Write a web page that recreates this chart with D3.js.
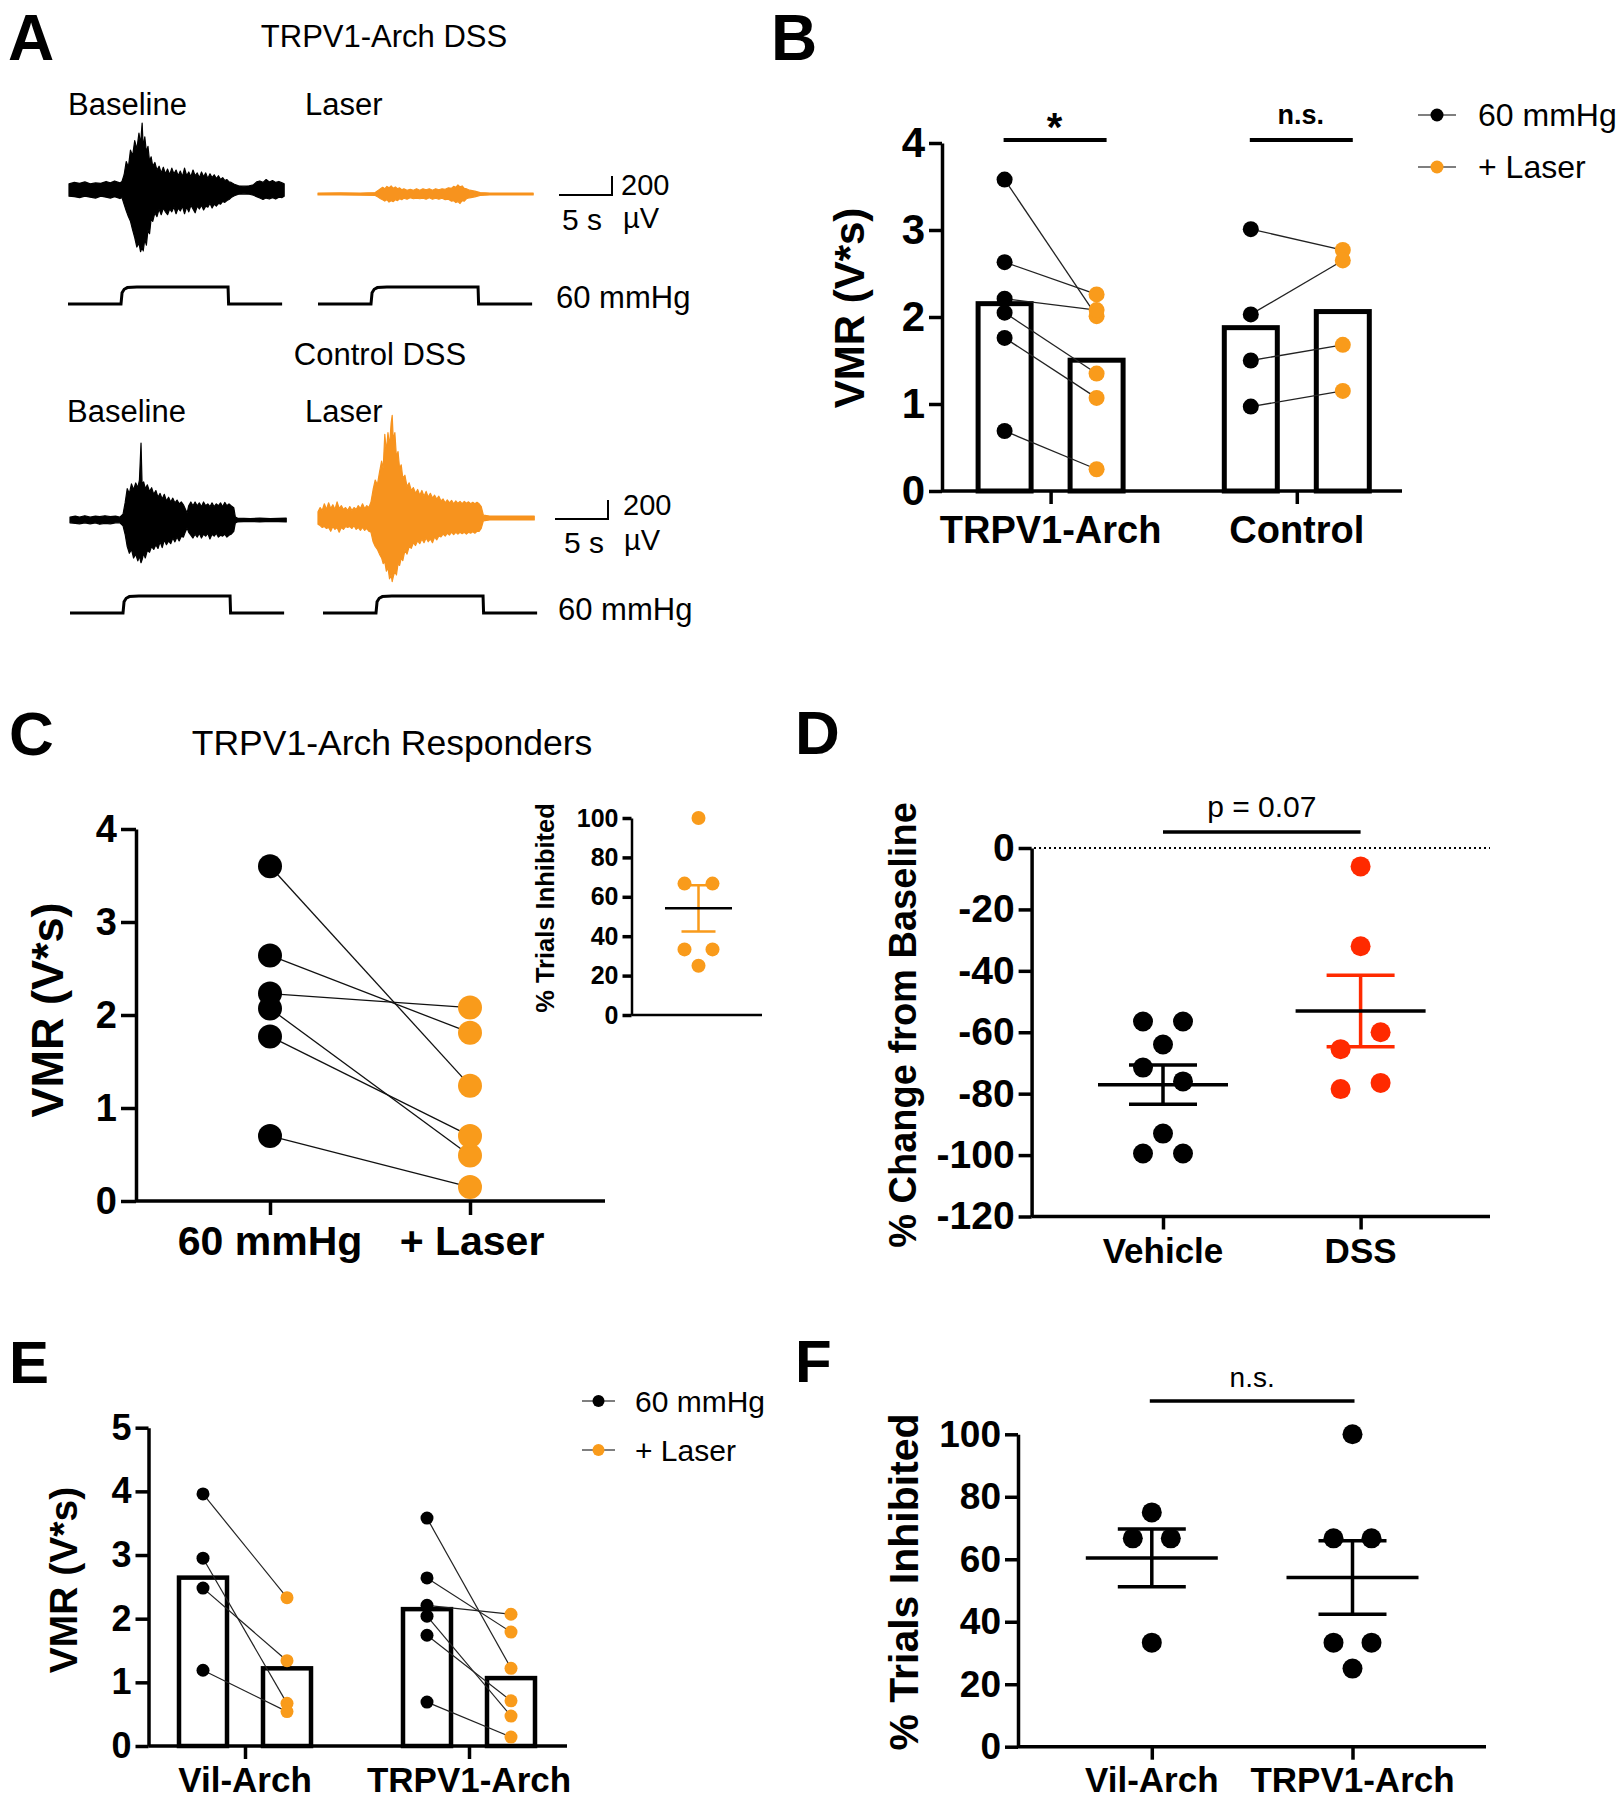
<!DOCTYPE html>
<html><head><meta charset="utf-8">
<script src="https://cdn.jsdelivr.net/npm/d3@7"></script>
<style>
body{margin:0;background:#fff;}
svg text{font-family:"Liberation Sans",Arial,Helvetica,sans-serif;}
</style></head><body>
<svg id="fig" width="1624" height="1800"></svg>
<script>
// ================= DATA =================
// Panel A: EMG envelopes [time (s), upper (µV), lower (µV)]
const emgTrpvBase = [[0,65,-65],[0.5,80,-70],[1.0,70,-80],[1.5,85,-65],[2.0,65,-75],[2.5,75,-85],[3.0,70,-65],[3.5,90,-75],[3.9,75,-85],[4.3,95,-70],[4.8,75,-90],[5.0,90,-80],[5.2,160,-150],[5.4,300,-220],[5.6,240,-280],[5.8,420,-330],[6.0,360,-420],[6.2,520,-500],[6.4,430,-600],[6.6,600,-560],[6.75,480,-650],[6.9,705,-600],[7.0,450,-640],[7.15,560,-520],[7.3,400,-580],[7.45,460,-420],[7.6,300,-460],[7.75,350,-300],[7.9,250,-330],[8.1,290,-240],[8.3,210,-280],[8.5,250,-200],[8.7,180,-260],[8.9,240,-190],[9.1,170,-230],[9.3,220,-260],[9.5,160,-200],[9.7,230,-230],[9.9,170,-180],[10.1,210,-250],[10.3,150,-190],[10.5,200,-220],[10.7,140,-170],[10.9,230,-250],[11.1,150,-180],[11.3,190,-230],[11.5,140,-160],[11.7,210,-200],[11.9,150,-240],[12.1,180,-170],[12.3,130,-200],[12.5,190,-160],[12.7,140,-210],[12.9,180,-170],[13.1,120,-180],[13.3,170,-140],[13.5,130,-190],[13.7,160,-150],[13.9,120,-170],[14.1,150,-140],[14.3,110,-150],[14.5,130,-120],[14.7,100,-130],[14.9,110,-110],[15.1,85,-100],[15.3,80,-80],[15.6,60,-60],[16.0,45,-45],[16.5,40,-40],[17.0,45,-45],[17.4,55,-55],[17.7,85,-70],[18.0,95,-85],[18.3,80,-100],[18.6,110,-85],[18.9,85,-95],[19.2,100,-80],[19.5,80,-95],[19.8,90,-75],[20.1,75,-80],[20.3,65,-65]];
const emgTrpvLaser = [[0,10,-10],[2.1,12,-10],[4.0,10,-12],[5.4,15,-15],[5.7,40,-35],[5.9,55,-50],[6.1,70,-60],[6.3,55,-75],[6.5,80,-60],[6.7,65,-85],[6.9,85,-70],[7.1,60,-80],[7.3,75,-60],[7.5,55,-70],[7.7,65,-50],[7.9,45,-60],[8.1,55,-45],[8.4,40,-55],[8.7,50,-40],[9.0,40,-50],[9.3,55,-45],[9.6,40,-50],[9.9,55,-45],[10.2,45,-55],[10.5,55,-40],[10.8,40,-55],[11.1,55,-45],[11.4,45,-55],[11.7,55,-45],[12.0,50,-60],[12.3,65,-55],[12.6,60,-75],[12.8,80,-70],[13.0,70,-90],[13.2,95,-80],[13.4,75,-100],[13.6,85,-70],[13.8,60,-75],[14.0,55,-50],[14.3,40,-40],[14.8,30,-30],[15.3,15,-15],[16.2,10,-10],[20.3,10,-10]];
const emgCtrlBase = [[0,30,-30],[0.5,40,-35],[0.9,30,-40],[1.4,45,-30],[1.9,30,-40],[2.4,40,-30],[2.8,35,-45],[3.3,45,-35],[3.8,35,-40],[4.3,40,-30],[4.7,30,-30],[5.0,60,-60],[5.2,180,-150],[5.4,330,-280],[5.6,280,-350],[5.8,380,-310],[6.0,320,-400],[6.2,390,-360],[6.4,340,-430],[6.55,420,-380],[6.7,810,-450],[6.8,380,-420],[6.95,400,-350],[7.1,330,-400],[7.3,370,-320],[7.5,300,-340],[7.7,340,-280],[7.9,270,-310],[8.1,310,-260],[8.3,240,-300],[8.5,280,-230],[8.7,220,-290],[8.9,270,-210],[9.1,200,-260],[9.3,240,-220],[9.5,190,-250],[9.7,230,-190],[9.9,180,-230],[10.1,210,-180],[10.3,170,-220],[10.5,190,-170],[10.7,160,-180],[10.9,110,-120],[11.05,75,-85],[11.2,150,-130],[11.4,190,-160],[11.6,150,-190],[11.8,190,-150],[12.0,150,-180],[12.2,180,-140],[12.4,140,-190],[12.6,190,-150],[12.8,150,-170],[13.0,170,-140],[13.2,140,-200],[13.4,180,-150],[13.6,140,-170],[13.8,170,-140],[14.0,150,-180],[14.2,180,-160],[14.4,140,-170],[14.6,185,-150],[14.8,150,-180],[15.0,170,-160],[15.2,150,-150],[15.45,130,-120],[15.6,30,-30],[15.8,20,-20],[17.0,15,-15],[17.9,20,-20],[18.9,15,-15],[20.4,20,-20]];
const emgCtrlLaser = [[0,65,-65],[0.2,110,-80],[0.4,80,-100],[0.6,150,-90],[0.8,90,-110],[1.0,160,-100],[1.2,100,-140],[1.4,140,-90],[1.6,90,-120],[1.8,170,-100],[2.0,100,-150],[2.2,130,-100],[2.4,90,-120],[2.6,110,-90],[2.8,80,-100],[3.0,120,-90],[3.2,80,-110],[3.4,110,-80],[3.6,90,-120],[3.8,130,-100],[4.0,100,-130],[4.2,150,-100],[4.4,100,-130],[4.6,130,-110],[4.8,110,-140],[5.0,170,-150],[5.2,300,-250],[5.4,400,-300],[5.6,350,-330],[5.8,480,-380],[6.0,600,-420],[6.15,520,-480],[6.3,880,-460],[6.45,700,-560],[6.6,900,-520],[6.75,760,-640],[6.9,1000,-600],[7.0,1080,-670],[7.1,820,-620],[7.25,900,-560],[7.4,640,-600],[7.55,700,-480],[7.7,520,-500],[7.85,560,-420],[8.0,420,-450],[8.2,450,-340],[8.4,330,-380],[8.6,370,-300],[8.8,290,-320],[9.0,320,-260],[9.2,260,-290],[9.4,300,-240],[9.6,240,-270],[9.8,290,-220],[10.0,230,-260],[10.2,280,-210],[10.4,220,-250],[10.6,260,-220],[10.8,210,-260],[11.0,240,-200],[11.2,200,-230],[11.4,230,-190],[11.6,180,-200],[11.8,200,-170],[12.0,160,-190],[12.2,190,-160],[12.4,160,-180],[12.6,185,-150],[12.8,150,-175],[13.0,180,-150],[13.2,155,-170],[13.4,175,-150],[13.6,150,-165],[13.8,175,-150],[14.0,155,-170],[14.2,170,-150],[14.4,150,-160],[14.6,165,-145],[14.8,150,-160],[15.0,165,-140],[15.2,150,-140],[15.4,120,-110],[15.6,30,-30],[16.2,20,-20],[17.2,20,-20],[20.4,20,-20]];
// distension pressure [time (s), mmHg]
const pressureTrace = [[0,0],[5.0,0],[5.1,40],[5.3,52],[5.6,58],[6.5,60],[15.1,60],[15.15,0],[20.2,0]];
const scaleBarTime = 5;     // s
const scaleBarVolt = 200;   // µV

// Panel B
const bGroups = ["TRPV1-Arch","Control"];
const conditions = ["60 mmHg","+ Laser"];
const bTrpvBase  = [3.58,2.63,2.21,2.05,1.76,0.69];
const bTrpvLaser = [2.01,2.26,2.08,1.35,1.07,0.25];
const bCtrlBase  = [3.01,2.03,1.50,0.97];
const bCtrlLaser = [2.77,2.65,1.68,1.15];
const bTicks = [0,1,2,3,4];

// Panel C
const cBase  = [3.60,2.64,2.23,2.07,1.77,0.70];
const cLaser = [1.24,1.81,2.08,0.49,0.70,0.15];
const cTicks = [0,1,2,3,4];
const cInhibited = [100,66.7,66.7,33.3,33.3,25];
const cInsetTicks = [0,20,40,60,80,100];

// Panel D
const dGroups = ["Vehicle","DSS"];
const dVehicle = [-56.5,-56.5,-64,-71.5,-76,-93,-99.5,-99.5];
const dDSS = [-6,-32,-65.5,-60,-78.5,-76.5];
const dTicks = [0,-20,-40,-60,-80,-100,-120];

// Panel E
const eGroups = ["Vil-Arch","TRPV1-Arch"];
const eVilBase   = [3.96,2.95,2.48,1.19];
const eVilLaser  = [2.33,0.67,1.34,0.54];
const eTrpvBase  = [3.58,2.64,2.21,2.04,1.74,0.69];
const eTrpvLaser = [1.22,1.79,2.07,0.47,0.71,0.14];
const eTicks = [0,1,2,3,4,5];

// Panel F
const fGroups = ["Vil-Arch","TRPV1-Arch"];
const fVil  = [75,66.7,66.7,33.3];
const fTrpv = [100,66.7,66.7,33.3,33.3,25];
const fTicks = [0,20,40,60,80,100];

// ================= STYLE =================
const BLACK = "#000", ORANGE = "#f99b1b", TRACE_OR = "#f7931e", RED = "#ff2a00";
const svg = d3.select("#fig");

function txt(g, x, y, s, size, o = {}) {
  const t = g.append("text").attr("x", x).attr("y", y).text(s)
    .attr("font-size", size).attr("font-weight", o.bold ? "bold" : "normal")
    .attr("text-anchor", o.anchor || "start").attr("fill", o.fill || BLACK);
  if (o.dy) t.attr("dy", o.dy);
  if (o.rotate) t.attr("transform", `rotate(${o.rotate},${x},${y})`);
  return t;
}
function yAxis(g, x, scale, ticks, fs, tick = 13) {
  const a = g.append("g").attr("transform", `translate(${x},0)`)
    .call(d3.axisLeft(scale).tickValues(ticks).tickSize(tick).tickSizeOuter(0).tickPadding(4).tickFormat(d => String(d)));
  a.select(".domain").attr("stroke", BLACK).attr("stroke-width", 3.5);
  a.selectAll(".tick line").attr("stroke", BLACK).attr("stroke-width", 3.5);
  a.selectAll(".tick text").attr("font-size", fs).attr("font-weight", "bold").attr("fill", BLACK)
    .attr("font-family", '"Liberation Sans",Arial,sans-serif');
  return a;
}
function xAxis(g, y, x0, x1, scale, tick = 13, sw = 3.5) {
  g.append("line").attr("x1", x0).attr("x2", x1).attr("y1", y).attr("y2", y)
    .attr("stroke", BLACK).attr("stroke-width", sw);
  if (scale) {
    const a = g.append("g").attr("transform", `translate(0,${y})`)
      .call(d3.axisBottom(scale).tickSize(tick).tickSizeOuter(0).tickFormat(""));
    a.select(".domain").remove();
    a.selectAll(".tick line").attr("stroke", BLACK).attr("stroke-width", 3.5);
  }
}
// spread points whose values lie closer than thr px (array order = left to right)
function spread(values, yScale, thr, off) {
  const idx = values.map((v, i) => i).sort((a, b) => values[b] - values[a] || a - b);
  const res = new Array(values.length).fill(0);
  let cl = [idx[0]];
  const flush = () => {
    const c = cl.slice().sort((a, b) => a - b);
    const n = c.length;
    c.forEach((k, j) => { res[k] = n > 1 ? (j - (n - 1) / 2) * 2 * off / (n - 1) : 0; });
  };
  for (let k = 1; k < idx.length; k++) {
    if (Math.abs(yScale(values[idx[k]]) - yScale(values[idx[k - 1]])) < thr) cl.push(idx[k]);
    else { flush(); cl = [idx[k]]; }
  }
  flush();
  return res;
}
function sem(a) { return d3.deviation(a) / Math.sqrt(a.length); }

// ================= PANEL A =================
const gA = svg.append("g");
txt(gA, 8, 60, "A", 64, {bold: true});
const tS = d3.scaleLinear().domain([0, 5]).range([0, 53]);
const vS = d3.scaleLinear().domain([-200, 200]).range([19, -19]);
const pS = d3.scaleLinear().domain([0, 60]).range([0, -17]);
const emgArea = d3.area().x(d => tS(d[0])).y0(d => vS(d[2])).y1(d => vS(d[1]));
const pLine = d3.line().x(d => tS(d[0])).y(d => pS(d[1]));
function emg(x0, yc, data, col) {
  gA.append("path").attr("transform", `translate(${x0},${yc})`).attr("d", emgArea(data))
    .attr("fill", col).attr("stroke", col).attr("stroke-width", 1.2).attr("stroke-linejoin", "round");
}
function press(x0, yl) {
  gA.append("path").attr("transform", `translate(${x0},${yl})`).attr("d", pLine(pressureTrace))
    .attr("fill", "none").attr("stroke", BLACK).attr("stroke-width", 3);
}
function scaleBar(xc, yc) {
  gA.append("path").attr("d", `M${xc - tS(scaleBarTime)},${yc}H${xc}V${yc + vS(scaleBarVolt)}`)
    .attr("fill", "none").attr("stroke", BLACK).attr("stroke-width", 2);
}
// top: TRPV1-Arch DSS
txt(gA, 384, 47, "TRPV1-Arch DSS", 31, {anchor: "middle"});
txt(gA, 68, 115, "Baseline", 31);
txt(gA, 305, 115, "Laser", 31);
emg(69, 190, emgTrpvBase, BLACK);
emg(318, 194, emgTrpvLaser, TRACE_OR);
scaleBar(612, 195);
txt(gA, 621, 195, "200", 29);
txt(gA, 562, 230, "5 s", 30);
txt(gA, 623, 228, "µV", 29);
press(68, 304); press(318, 304);
txt(gA, 556, 308, "60 mmHg", 31);
// bottom: Control DSS
txt(gA, 380, 365, "Control DSS", 31, {anchor: "middle"});
txt(gA, 67, 422, "Baseline", 31);
txt(gA, 305, 422, "Laser", 31);
emg(70, 520, emgCtrlBase, BLACK);
emg(318, 518, emgCtrlLaser, TRACE_OR);
scaleBar(608, 519);
txt(gA, 623, 515, "200", 29);
txt(gA, 564, 553, "5 s", 30);
txt(gA, 624, 550, "µV", 29);
press(70, 613); press(323, 613);
txt(gA, 558, 620, "60 mmHg", 31);

// ================= PANEL B =================
const gB = svg.append("g");
txt(gB, 771, 60, "B", 64, {bold: true});
const yB = d3.scaleLinear().domain([0, 4]).range([491, 143]);
const xB = d3.scalePoint().domain(bGroups).range([1050.6, 1296.8]);
const oB = d3.scalePoint().domain(conditions).range([-46, 46]);
const bSets = [{g: bGroups[0], s: [bTrpvBase, bTrpvLaser]}, {g: bGroups[1], s: [bCtrlBase, bCtrlLaser]}];
bSets.forEach(d => d.s.forEach((arr, k) => {
  const m = d3.mean(arr);
  gB.append("rect").attr("x", xB(d.g) + oB(conditions[k]) - 26.5).attr("width", 53)
    .attr("y", yB(m)).attr("height", yB(0) - yB(m))
    .attr("fill", "#fff").attr("stroke", BLACK).attr("stroke-width", 5);
}));
yAxis(gB, 942, yB, bTicks, 42);
xAxis(gB, 491, 942, 1402, xB);
bSets.forEach(d => {
  d.s[0].forEach((v, i) => gB.append("line")
    .attr("x1", xB(d.g) + oB(conditions[0])).attr("y1", yB(v))
    .attr("x2", xB(d.g) + oB(conditions[1])).attr("y2", yB(d.s[1][i]))
    .attr("stroke", "#222").attr("stroke-width", 1.3));
  d.s.forEach((arr, k) => gB.selectAll(null).data(arr).enter().append("circle")
    .attr("cx", xB(d.g) + oB(conditions[k])).attr("cy", v => yB(v)).attr("r", 8)
    .attr("fill", k ? ORANGE : BLACK));
});
txt(gB, 849, 308, "VMR (V*s)", 42, {bold: true, anchor: "middle", rotate: -90, dy: "0.35em"});
bGroups.forEach(g => txt(gB, xB(g), 543, g, 38, {bold: true, anchor: "middle"}));
// significance
[[bGroups[0], "*", 40, 141], [bGroups[1], "n.s.", 27, 124]].forEach(([g, s, fs, by]) => {
  gB.append("line").attr("x1", xB(g) - 47).attr("x2", xB(g) + 56).attr("y1", 140).attr("y2", 140)
    .attr("stroke", BLACK).attr("stroke-width", 4);
  txt(gB, xB(g) + 4, by, s, fs, {bold: true, anchor: "middle"});
});
// legend
conditions.forEach((c, k) => {
  const y = 115 + k * 52;
  gB.append("line").attr("x1", 1418).attr("x2", 1456).attr("y1", y).attr("y2", y).attr("stroke", "#555").attr("stroke-width", 1.5);
  gB.append("circle").attr("cx", 1437).attr("cy", y).attr("r", 6.5).attr("fill", k ? ORANGE : BLACK);
  txt(gB, 1478, y, c, 32, {dy: "0.35em"});
});

// ================= PANEL C =================
const gC = svg.append("g");
txt(gC, 9, 755, "C", 62, {bold: true});
txt(gC, 392, 755, "TRPV1-Arch Responders", 35.5, {anchor: "middle"});
const yC = d3.scaleLinear().domain([0, 4]).range([1201, 829]);
const xC = d3.scalePoint().domain(conditions).range([270, 470]);
yAxis(gC, 136, yC, cTicks, 38, 15);
xAxis(gC, 1201, 136, 605, xC, 14);
cBase.forEach((v, i) => gC.append("line")
  .attr("x1", xC(conditions[0])).attr("y1", yC(v)).attr("x2", xC(conditions[1])).attr("y2", yC(cLaser[i]))
  .attr("stroke", "#111").attr("stroke-width", 1.3));
[cBase, cLaser].forEach((arr, k) => gC.selectAll(null).data(arr).enter().append("circle")
  .attr("cx", xC(conditions[k])).attr("cy", v => yC(v)).attr("r", 12).attr("fill", k ? ORANGE : BLACK));
txt(gC, 47, 1010, "VMR (V*s)", 45, {bold: true, anchor: "middle", rotate: -90, dy: "0.35em"});
conditions.forEach(c => txt(gC, xC(c) + (c === "+ Laser" ? 2 : 0), 1255, c, 41, {bold: true, anchor: "middle"}));
// inset
const yI = d3.scaleLinear().domain([0, 100]).range([1015, 818]);
const xI = 698.5;
yAxis(gC, 631.5, yI, cInsetTicks, 25, 9).select(".domain").attr("stroke-width", 2.5);
xAxis(gC, 1015, 631.5, 762, null, 0, 2.5);
const mI = d3.mean(cInhibited), sI = sem(cInhibited);
gC.append("path").attr("d", `M${xI - 17},${yI(mI + sI)}H${xI + 17}M${xI},${yI(mI + sI)}V${yI(mI - sI)}M${xI - 17},${yI(mI - sI)}H${xI + 17}`)
  .attr("stroke", ORANGE).attr("stroke-width", 2.5).attr("fill", "none");
gC.append("line").attr("x1", xI - 33.5).attr("x2", xI + 33.5).attr("y1", yI(mI)).attr("y2", yI(mI)).attr("stroke", BLACK).attr("stroke-width", 2.5);
const offI = spread(cInhibited, yI, 14, 14);
gC.selectAll(null).data(cInhibited).enter().append("circle")
  .attr("cx", (v, i) => xI + offI[i]).attr("cy", v => yI(v)).attr("r", 7).attr("fill", ORANGE);
txt(gC, 545, 908, "% Trials Inhibited", 25.5, {bold: true, anchor: "middle", rotate: -90, dy: "0.35em"});

// ================= PANEL D =================
const gD = svg.append("g");
txt(gD, 795, 754, "D", 62, {bold: true});
const yD = d3.scaleLinear().domain([-120, 0]).range([1216.5, 848]);
const xD = d3.scalePoint().domain(dGroups).range([1163, 1360.6]);
gD.append("line").attr("x1", 1034).attr("x2", 1490).attr("y1", yD(0)).attr("y2", yD(0))
  .attr("stroke", BLACK).attr("stroke-width", 2.2).attr("stroke-dasharray", "2,3");
yAxis(gD, 1031.6, yD, dTicks, 39);
xAxis(gD, yD(-120), 1031.6, 1490, xD);
[[dGroups[0], dVehicle, BLACK], [dGroups[1], dDSS, RED]].forEach(([g, arr, col]) => {
  const x = xD(g), m = d3.mean(arr), s = sem(arr);
  const off = spread(arr, yD, 18, 20);
  gD.selectAll(null).data(arr).enter().append("circle")
    .attr("cx", (v, i) => x + off[i]).attr("cy", v => yD(v)).attr("r", 10).attr("fill", col);
  gD.append("path").attr("d", `M${x - 34},${yD(m + s)}H${x + 34}M${x},${yD(m + s)}V${yD(m - s)}M${x - 34},${yD(m - s)}H${x + 34}`)
    .attr("stroke", col).attr("stroke-width", 3.5).attr("fill", "none");
  gD.append("line").attr("x1", x - 65).attr("x2", x + 65).attr("y1", yD(m)).attr("y2", yD(m)).attr("stroke", BLACK).attr("stroke-width", 3.5);
  txt(gD, x, 1263, g, 35, {bold: true, anchor: "middle"});
});
gD.append("line").attr("x1", xD(dGroups[0])).attr("x2", xD(dGroups[1])).attr("y1", 832).attr("y2", 832).attr("stroke", BLACK).attr("stroke-width", 3.5);
txt(gD, (xD(dGroups[0]) + xD(dGroups[1])) / 2, 817, "p = 0.07", 30, {anchor: "middle"});
txt(gD, 903, 1025, "% Change from Baseline", 38, {bold: true, anchor: "middle", rotate: -90, dy: "0.35em"});

// ================= PANEL E =================
const gE = svg.append("g");
txt(gE, 9, 1383, "E", 60, {bold: true});
const yE = d3.scaleLinear().domain([0, 5]).range([1746, 1427.7]);
const xE = d3.scalePoint().domain(eGroups).range([245, 469]);
const oE = d3.scalePoint().domain(conditions).range([-42, 42]);
const eSets = [{g: eGroups[0], s: [eVilBase, eVilLaser]}, {g: eGroups[1], s: [eTrpvBase, eTrpvLaser]}];
eSets.forEach(d => d.s.forEach((arr, k) => {
  const m = d3.mean(arr);
  gE.append("rect").attr("x", xE(d.g) + oE(conditions[k]) - 24).attr("width", 48)
    .attr("y", yE(m)).attr("height", yE(0) - yE(m))
    .attr("fill", "#fff").attr("stroke", BLACK).attr("stroke-width", 4.5);
}));
yAxis(gE, 148.5, yE, eTicks, 36);
xAxis(gE, 1746, 148.5, 567, xE);
eSets.forEach(d => {
  d.s[0].forEach((v, i) => gE.append("line")
    .attr("x1", xE(d.g) + oE(conditions[0])).attr("y1", yE(v))
    .attr("x2", xE(d.g) + oE(conditions[1])).attr("y2", yE(d.s[1][i]))
    .attr("stroke", "#222").attr("stroke-width", 1.2));
  d.s.forEach((arr, k) => gE.selectAll(null).data(arr).enter().append("circle")
    .attr("cx", xE(d.g) + oE(conditions[k])).attr("cy", v => yE(v)).attr("r", 6.5)
    .attr("fill", k ? ORANGE : BLACK));
});
txt(gE, 63, 1580, "VMR (V*s)", 39, {bold: true, anchor: "middle", rotate: -90, dy: "0.35em"});
eGroups.forEach(g => txt(gE, xE(g), 1792, g, 35, {bold: true, anchor: "middle"}));
conditions.forEach((c, k) => {
  const y = 1401 + k * 49;
  gE.append("line").attr("x1", 582).attr("x2", 615).attr("y1", y).attr("y2", y).attr("stroke", "#555").attr("stroke-width", 1.5);
  gE.append("circle").attr("cx", 598.5).attr("cy", y).attr("r", 6).attr("fill", k ? ORANGE : BLACK);
  txt(gE, 635, y, c, 30, {dy: "0.35em"});
});

// ================= PANEL F =================
const gF = svg.append("g");
txt(gF, 795, 1382, "F", 60, {bold: true});
const yF = d3.scaleLinear().domain([0, 100]).range([1746.7, 1434.3]);
const xF = d3.scalePoint().domain(fGroups).range([1151.8, 1352.5]);
yAxis(gF, 1018, yF, fTicks, 37);
xAxis(gF, yF(0), 1018, 1486, xF);
[[fGroups[0], fVil], [fGroups[1], fTrpv]].forEach(([g, arr]) => {
  const x = xF(g), m = d3.mean(arr), s = sem(arr);
  const off = spread(arr, yF, 18, 19);
  gF.selectAll(null).data(arr).enter().append("circle")
    .attr("cx", (v, i) => x + off[i]).attr("cy", v => yF(v)).attr("r", 10).attr("fill", BLACK);
  gF.append("path").attr("d", `M${x - 34},${yF(m + s)}H${x + 34}M${x},${yF(m + s)}V${yF(m - s)}M${x - 34},${yF(m - s)}H${x + 34}`)
    .attr("stroke", BLACK).attr("stroke-width", 3.5).attr("fill", "none");
  gF.append("line").attr("x1", x - 66).attr("x2", x + 66).attr("y1", yF(m)).attr("y2", yF(m)).attr("stroke", BLACK).attr("stroke-width", 3.5);
  txt(gF, x, 1792, g, 35, {bold: true, anchor: "middle"});
});
gF.append("line").attr("x1", xF(fGroups[0]) - 2).attr("x2", xF(fGroups[1]) + 2).attr("y1", 1401).attr("y2", 1401).attr("stroke", BLACK).attr("stroke-width", 3.5);
txt(gF, (xF(fGroups[0]) + xF(fGroups[1])) / 2, 1387, "n.s.", 28, {anchor: "middle"});
txt(gF, 904, 1582, "% Trials Inhibited", 41, {bold: true, anchor: "middle", rotate: -90, dy: "0.35em"});
</script>
</body></html>
